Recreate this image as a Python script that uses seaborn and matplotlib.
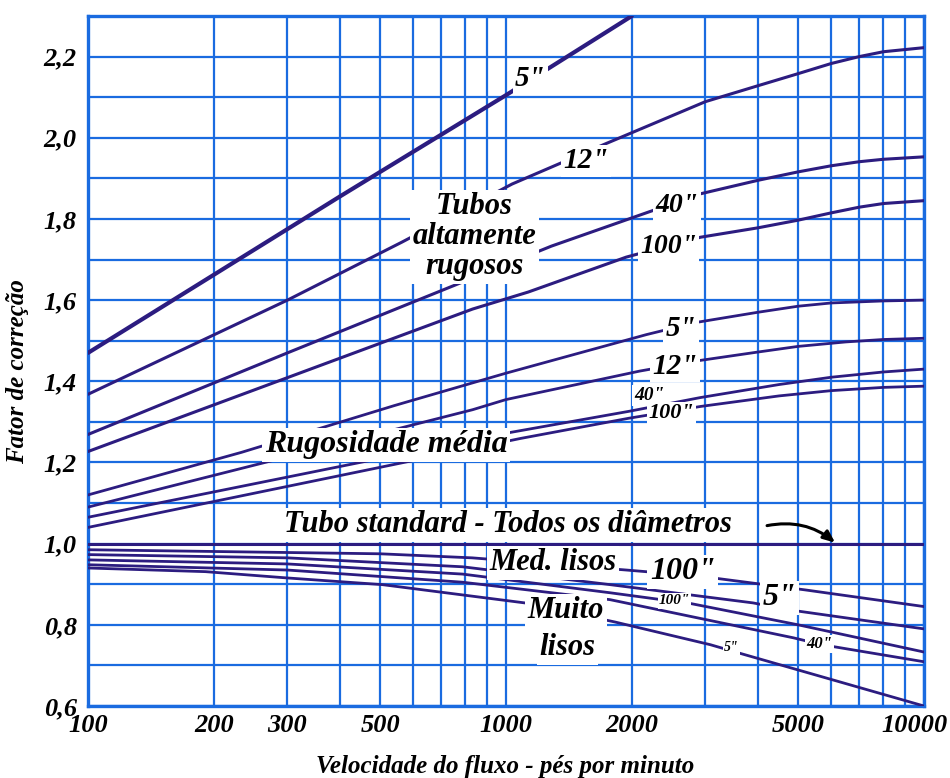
import matplotlib
matplotlib.use("Agg")
import matplotlib.pyplot as plt
import matplotlib.transforms as mtransforms
import seaborn as sns
import pandas as pd
from matplotlib.ticker import FixedLocator, FixedFormatter, LogLocator, MultipleLocator, NullFormatter

# ---------------- data ----------------
x_ticks = [100, 200, 300, 500, 1000, 2000, 5000, 10000]
x_tick_labels = ["100", "200", "300", "500", "1000", "2000", "5000", "10000"]
y_ticks = [0.6, 0.8, 1.0, 1.2, 1.4, 1.6, 1.8, 2.0, 2.2]
y_tick_labels = ["0,6", "0,8", "1,0", "1,2", "1,4", "1,6", "1,8", "2,0", "2,2"]

# Tubos altamente rugosos
rough_5_x = [100, 300, 400, 1000, 2000]
rough_5_y = [1.47, 1.775, 1.855, 2.105, 2.30]
rough_12_x = [100, 300, 564, 1034, 1729, 3000, 4000, 5000, 6000, 7000, 8000, 10000]
rough_12_y = [1.368, 1.60, 1.743, 1.886, 1.985, 2.089, 2.128, 2.158, 2.183, 2.200, 2.212, 2.222]
rough_40_x = [100, 300, 695, 1284, 2921, 4000, 5000, 6000, 7000, 8000, 10000]
rough_40_y = [1.269, 1.47, 1.622, 1.733, 1.862, 1.895, 1.916, 1.931, 1.941, 1.947, 1.953]
rough_100_x = [100, 832, 1131, 1940, 2921, 4000, 5000, 6000, 7000, 8000, 10000]
rough_100_y = [1.227, 1.578, 1.62, 1.706, 1.755, 1.778, 1.797, 1.815, 1.829, 1.838, 1.845]

# Rugosidade media
med_5_x = [100, 233, 540, 1000, 2167, 2850, 4000, 5000, 6000, 8000, 10000]
med_5_y = [1.12, 1.225, 1.34, 1.42, 1.515, 1.545, 1.570, 1.585, 1.593, 1.598, 1.60]
med_12_x = [100, 300, 832, 1000, 2085, 2850, 4000, 5000, 6500, 8000, 10000]
med_12_y = [1.09, 1.214, 1.33, 1.355, 1.425, 1.45, 1.472, 1.486, 1.497, 1.503, 1.506]
med_40_x = [100, 962, 1968, 2920, 4500, 6000, 8000, 10000]
med_40_y = [1.065, 1.269, 1.326, 1.36, 1.392, 1.41, 1.423, 1.43]
med_100_x = [100, 1081, 1968, 2920, 4500, 6000, 8000, 10000]
med_100_y = [1.04, 1.259, 1.309, 1.338, 1.364, 1.377, 1.385, 1.388]

# Tubo standard
std_x = [100, 10000]
std_y = [1.0, 1.0]

# Medianamente lisos
ml_100_x = [100, 500, 830, 1940, 2900, 5200, 10000]
ml_100_y = [0.985, 0.975, 0.965, 0.935, 0.92, 0.886, 0.845]
ml_5_x = [100, 300, 787, 1774, 3900, 4750, 10000]
ml_5_y = [0.973, 0.965, 0.943, 0.899, 0.854, 0.837, 0.79]

# Muito lisos
vl_100_x = [100, 300, 787, 1774, 2780, 5000, 10000]
vl_100_y = [0.96, 0.95, 0.925, 0.879, 0.852, 0.80, 0.733]
vl_40_x = [100, 300, 787, 1774, 4870, 5700, 10000]
vl_40_y = [0.948, 0.935, 0.905, 0.862, 0.768, 0.751, 0.709]
vl_5_x = [100, 191, 295, 506, 1109, 1822, 3083, 3540, 10000]
vl_5_y = [0.94, 0.931, 0.916, 0.899, 0.854, 0.807, 0.751, 0.733, 0.60]

curves = [
    ("rough_5", rough_5_x, rough_5_y, 3.0),
    ("rough_12", rough_12_x, rough_12_y, 2.2),
    ("rough_40", rough_40_x, rough_40_y, 2.2),
    ("rough_100", rough_100_x, rough_100_y, 2.2),
    ("med_5", med_5_x, med_5_y, 2.0),
    ("med_12", med_12_x, med_12_y, 2.0),
    ("med_40", med_40_x, med_40_y, 2.0),
    ("med_100", med_100_x, med_100_y, 2.0),
    ("std", std_x, std_y, 2.2),
    ("ml_100", ml_100_x, ml_100_y, 2.0),
    ("ml_5", ml_5_x, ml_5_y, 2.0),
    ("vl_100", vl_100_x, vl_100_y, 2.0),
    ("vl_40", vl_40_x, vl_40_y, 2.0),
    ("vl_5", vl_5_x, vl_5_y, 2.0),
]

# text labels: (text, x, y, size)
labels = [
    ('5"', 1144, 2.146, 21),
    ('12"', 1556, 1.943, 21),
    ('40"', 2564, 1.832, 20),
    ('100"', 2450, 1.731, 20),
    ("Tubos\naltamente\nrugosos", 841, 1.756, 22),
    ('5"', 2620, 1.531, 21),
    ('12"', 2540, 1.437, 21),
    ('40"', 2200, 1.365, 14),
    ('100"', 2490, 1.321, 16),
    ("Rugosidade média", 517, 1.244, 23),
    ("Tubo standard - Todos os diâmetros", 1011, 1.047, 22),
    ("Med. lisos", 1294, 0.953, 22),
    ('100"', 2650, 0.931, 23),
    ('5"', 4510, 0.867, 23),
    ('100"', 2530, 0.859, 11),
    ('40"', 5620, 0.753, 12),
    ('5"', 3465, 0.743, 10),
    ("Muito", 1392, 0.835, 22),
    ("lisos", 1400, 0.743, 22),
]

# ---------------- drawing ----------------
sns.set_style("white")
plt.rcParams["font.family"] = ["Liberation Serif", "DejaVu Serif"]

GRID = "#1a6be0"
INK = "#2c1c80"
FONT = dict(family=["Liberation Serif", "DejaVu Serif"], weight="bold", style="italic")

fig = plt.figure(figsize=(9.5, 7.78), dpi=100)
ax = fig.add_axes([88 / 950, 1 - 706 / 778, (924 - 88) / 950, (706 - 16) / 778])

rows = []
for name, xs, ys, lw in curves:
    for xv, yv in zip(xs, ys):
        rows.append({"curve": name, "x": xv, "y": yv})
df = pd.DataFrame(rows)

for name, xs, ys, lw in curves:
    sub = df[df["curve"] == name]
    sns.lineplot(data=sub, x="x", y="y", ax=ax, color=INK, linewidth=lw,
                 estimator=None, sort=False, zorder=3, legend=False)

ax.set_xscale("log")
ax.set_xlim(100, 10000)
ax.set_ylim(0.6, 2.3)

ax.xaxis.set_major_locator(FixedLocator(x_ticks))
ax.xaxis.set_major_formatter(FixedFormatter(x_tick_labels))
ax.xaxis.set_minor_locator(LogLocator(base=10, subs=[1, 2, 3, 4, 5, 6, 7, 8, 9], numticks=20))
ax.xaxis.set_minor_formatter(NullFormatter())
ax.yaxis.set_major_locator(FixedLocator(y_ticks))
ax.yaxis.set_major_formatter(FixedFormatter(y_tick_labels))
ax.yaxis.set_minor_locator(MultipleLocator(0.1))

ax.grid(which="both", color=GRID, linewidth=1.6, zorder=1)
ax.set_axisbelow(True)
for sp in ax.spines.values():
    sp.set_color(GRID)
    sp.set_linewidth(2.4)

ax.tick_params(which="both", length=0)
ax.tick_params(axis="y", pad=8)
ax.tick_params(axis="x", pad=6)
for t in ax.get_xticklabels() + ax.get_yticklabels():
    t.set_fontfamily(FONT["family"])
    t.set_fontweight("bold")
    t.set_fontstyle("italic")
    t.set_fontsize(19)
    t.set_color("black")

# pull the last x tick label ("10000") slightly left so it stays inside the figure
fig.canvas.draw()
last = ax.get_xticklabels()[-1]
last.set_transform(last.get_transform() +
                   mtransforms.ScaledTranslation(-9 / 100, 0, fig.dpi_scale_trans))

ax.set_xlabel("")
ax.set_ylabel("")

for text, xv, yv, size in labels:
    ax.text(xv, yv, text, ha="center", va="center", fontsize=size, zorder=6,
            linespacing=1.05, color="black",
            bbox=dict(boxstyle="square,pad=0.08", fc="white", ec="none"), **FONT)

ax.annotate("", xy=(6200, 0.998), xytext=(4150, 1.043),
            arrowprops=dict(arrowstyle="-|>,head_length=0.7,head_width=0.3", color="black",
                            lw=2.2, connectionstyle="arc3,rad=-0.25"), zorder=7)

fig.text(18 / 950, 1 - 372 / 778, "Fator de correção", rotation=90, ha="center", va="center",
         fontsize=18, color="black", **FONT)
fig.text(505 / 950, 1 - 766 / 778, "Velocidade do fluxo - pés por minuto", ha="center",
         va="center", fontsize=18, color="black", **FONT)

fig.savefig("out.png", dpi=100)
